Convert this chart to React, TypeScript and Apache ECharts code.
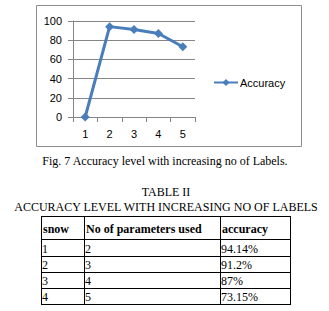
import React, { useEffect, useRef } from "react";
import * as echarts from "echarts";

const categories = ["1", "2", "3", "4", "5"];
const accuracyValues = [0, 94.14, 91.2, 87, 73.15];
const seriesName = "Accuracy";

const caption = "Fig. 7 Accuracy level with increasing no of Labels.";
const tableTitle1 = "TABLE II";
const tableTitle2 = "ACCURACY LEVEL WITH INCREASING NO OF LABELS";
const tableHeaders = ["snow", "No of parameters used", "accuracy"];
const snowCol = ["1", "2", "3", "4"];
const paramsCol = ["2", "3", "4", "5"];
const accuracyCol = ["94.14%", "91.2%", "87%", "73.15%"];

const colX = [41, 84, 220, 290];
const rowY = [216, 239, 256, 272, 288, 304];

function buildTable() {
  const els: any[] = [];
  const serif = "'Liberation Serif', 'Times New Roman', serif";
  colX.forEach((x) =>
    els.push({
      type: "line",
      shape: { x1: x + 0.5, y1: rowY[0], x2: x + 0.5, y2: rowY[rowY.length - 1] + 1 },
      style: { stroke: "#000", lineWidth: 1 },
    })
  );
  rowY.forEach((y) =>
    els.push({
      type: "line",
      shape: { x1: colX[0], y1: y + 0.5, x2: colX[colX.length - 1] + 1, y2: y + 0.5 },
      style: { stroke: "#000", lineWidth: 1 },
    })
  );
  tableHeaders.forEach((h, i) =>
    els.push({
      type: "text",
      style: {
        text: h,
        x: colX[i] + 2,
        y: (rowY[0] + rowY[1]) / 2 + 1,
        font: "bold 12px " + serif,
        fill: "#000",
        align: "left",
        verticalAlign: "middle",
      },
    })
  );
  const cols = [snowCol, paramsCol, accuracyCol];
  cols.forEach((col, c) =>
    col.forEach((v, r) =>
      els.push({
        type: "text",
        style: {
          text: v,
          x: colX[c] + 1,
          y: (rowY[r + 1] + rowY[r + 2]) / 2 + 1,
          font: "12px " + serif,
          fill: "#000",
          align: "left",
          verticalAlign: "middle",
        },
      })
    )
  );
  els.push({
    type: "text",
    style: { text: caption, x: 165, y: 161, font: "12px " + serif, fill: "#000", align: "center", verticalAlign: "middle" },
  });
  els.push({
    type: "text",
    style: { text: tableTitle1, x: 166, y: 192, font: "12px " + serif, fill: "#000", align: "center", verticalAlign: "middle" },
  });
  els.push({
    type: "text",
    style: { text: tableTitle2, x: 166, y: 207, font: "12px " + serif, fill: "#000", align: "center", verticalAlign: "middle" },
  });
  els.push({
    type: "rect",
    shape: { x: 36.5, y: 5.5, width: 265, height: 141 },
    style: { fill: "none", stroke: "#8c8c8c", lineWidth: 1 },
    z: -1,
  });
  return els;
}

export default function App() {
  const ref = useRef<HTMLDivElement>(null);
  useEffect(() => {
    if (!ref.current) return;
    const chart = echarts.init(ref.current, undefined, { renderer: "svg" });
    const blue = "#4a7ebb";
    const sans = "'Liberation Sans', Arial, sans-serif";
    chart.setOption({
      animation: false,
      backgroundColor: "#fff",
      grid: { left: 73, top: 21, width: 122, height: 96, containLabel: false },
      xAxis: {
        type: "category",
        data: categories,
        boundaryGap: true,
        axisLine: { lineStyle: { color: "#868686", width: 1 } },
        axisTick: { show: true, length: 5, alignWithLabel: false, lineStyle: { color: "#868686" } },
        axisLabel: { color: "#000", fontSize: 11, fontFamily: sans, margin: 11 },
        splitLine: { show: false },
      },
      yAxis: {
        type: "value",
        min: 0,
        max: 100,
        interval: 20,
        axisLine: { show: true, lineStyle: { color: "#868686", width: 1 } },
        axisTick: { show: true, length: 5, lineStyle: { color: "#868686" } },
        axisLabel: { color: "#000", fontSize: 11, fontFamily: sans, margin: 11 },
        splitLine: { show: true, lineStyle: { color: "#868686", width: 1 } },
      },
      legend: {
        show: true,
        left: 208,
        top: 72,
        itemWidth: 24,
        itemHeight: 9,
        itemGap: 4,
        textStyle: { color: "#000", fontSize: 11, fontFamily: sans, padding: [0, 0, 0, -3] },
        data: [seriesName],
      },
      series: [
        {
          name: seriesName,
          type: "line",
          data: accuracyValues,
          color: blue,
          lineStyle: { color: blue, width: 3 },
          itemStyle: { color: blue },
          symbol: "diamond",
          symbolSize: 9,
          showSymbol: true,
        },
      ],
      graphic: buildTable(),
    });
    return () => chart.dispose();
  }, []);
  return (
    <div
      ref={ref}
      style={{ position: "absolute", left: 0, top: 0, width: 329, height: 311 }}
    />
  );
}
